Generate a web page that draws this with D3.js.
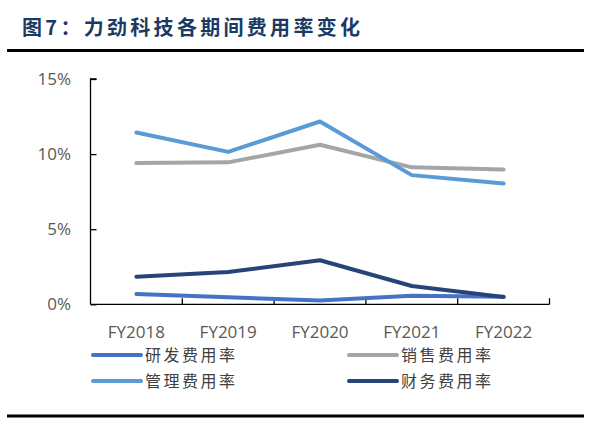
<!DOCTYPE html>
<html><head><meta charset="utf-8">
<script src="https://cdn.jsdelivr.net/npm/d3@7"></script>
<style>
body{margin:0;background:#fff;}
svg{display:block;}
</style></head>
<body>
<svg id="c" width="597" height="424"></svg>
<script>
const title = "图7：力劲科技各期间费用率变化";
const categories = ["FY2018","FY2019","FY2020","FY2021","FY2022"];
const seriesNames = ["研发费用率","销售费用率","管理费用率","财务费用率"];
const rd    = [0.69, 0.47, 0.25, 0.57, 0.51];
const sales = [9.40, 9.45, 10.62, 9.12, 8.98];
const admin = [11.44, 10.15, 12.17, 8.60, 8.04];
const fin   = [1.84, 2.15, 2.93, 1.22, 0.49];
const yTicks = [0, 5, 10, 15];
const colors = ["#4472C4", "#A5A5A5", "#5B9BD5", "#264478"];

const series = [rd, sales, admin, fin];
const svg = d3.select("#c");

// title
svg.append("text").attr("x", 22).attr("y", 34.5)
  .attr("font-family", "'Noto Sans CJK SC'").attr("font-weight", 700)
  .attr("font-size", 20).attr("letter-spacing", 3.3).attr("fill", "#1B3A63")
  .text(title);
svg.append("line").attr("x1", 7).attr("x2", 584).attr("y1", 50.5).attr("y2", 50.5)
  .attr("stroke", "#000").attr("stroke-width", 3);
svg.append("line").attr("x1", 7).attr("x2", 584).attr("y1", 416).attr("y2", 416)
  .attr("stroke", "#000").attr("stroke-width", 3);

const x = d3.scaleBand().domain(categories).range([90.5, 549.5]).padding(0);
const y = d3.scaleLinear().domain([0, 15]).range([304.3, 79]);

// y axis
const ya = svg.append("g").attr("transform", "translate(90.5,0)")
  .call(d3.axisRight(y).tickValues(yTicks).tickSize(6).tickFormat(""));
ya.select(".domain").attr("stroke", "#000").attr("stroke-width", 1.3).attr("d", `M6,${y(15)}H0V${y(0)}`);
ya.selectAll(".tick line").attr("stroke", "#000").attr("stroke-width", 1.3);
svg.append("g").selectAll("text").data(yTicks).join("text")
  .attr("x", 71).attr("y", d => y(d) + 6)
  .attr("text-anchor", "end").attr("font-family", "'Open Sans'").attr("font-size", 17)
  .attr("fill", "#595959").text(d => d + "%");

// x axis
const bounds = categories.map(c => x(c)).concat([x.range()[1]]);
const xa = svg.append("g");
xa.append("line").attr("x1", 90.5).attr("x2", 549.5).attr("y1", y(0)).attr("y2", y(0))
  .attr("stroke", "#000").attr("stroke-width", 1.3);
xa.selectAll("line.tk").data(bounds.slice(1)).join("line").attr("class", "tk")
  .attr("x1", d => d).attr("x2", d => d).attr("y1", y(0)).attr("y2", y(0) - 6)
  .attr("stroke", "#000").attr("stroke-width", 1.3);
xa.selectAll("text").data(categories).join("text")
  .attr("x", d => x(d) + x.bandwidth() / 2).attr("y", 338)
  .attr("text-anchor", "middle").attr("font-family", "'Open Sans'").attr("font-size", 17)
  .attr("fill", "#595959").text(d => d);

// lines
const line = d3.line().x((d, i) => x(categories[i]) + x.bandwidth() / 2).y(d => y(d));
svg.append("g").selectAll("path").data(series).join("path")
  .attr("d", d => line(d)).attr("fill", "none")
  .attr("stroke", (d, i) => colors[i]).attr("stroke-width", 4)
  .attr("stroke-linejoin", "round").attr("stroke-linecap", "round");

// legend
const legPos = [[93, 355], [349, 355], [93, 381], [349, 381]];
const lg = svg.append("g").selectAll("g").data(seriesNames).join("g")
  .attr("transform", (d, i) => `translate(${legPos[i][0]},${legPos[i][1]})`);
lg.append("line").attr("x1", 0).attr("x2", 48).attr("y1", 0).attr("y2", 0)
  .attr("stroke", (d, i) => colors[i]).attr("stroke-width", 4).attr("stroke-linecap", "round");
lg.append("text").attr("x", 52).attr("y", 6)
  .attr("font-family", "'Noto Sans CJK SC'").attr("font-size", 16).attr("letter-spacing", 2.5)
  .attr("fill", "#404040").text(d => d);
</script>
</body></html>
